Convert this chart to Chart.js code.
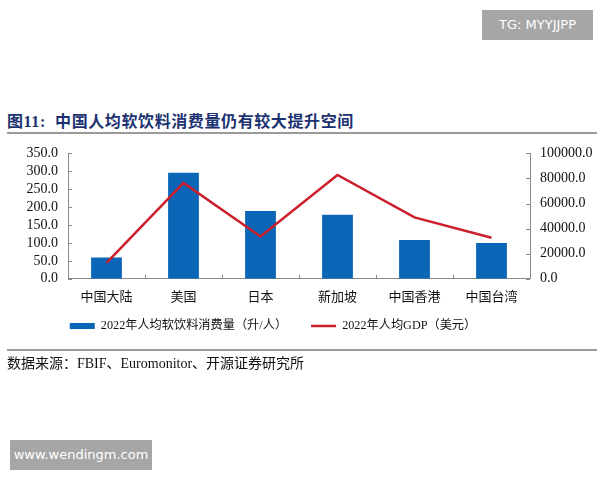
<!DOCTYPE html>
<html>
<head>
<meta charset="utf-8">
<script src="https://cdn.jsdelivr.net/npm/chart.js@4/dist/chart.umd.min.js"></script>
<style>
    body { margin: 0; width: 600px; height: 480px; background: #fff; position: relative; overflow: hidden;
           font-family: "Liberation Serif", "Noto Sans CJK SC", serif; }
    .badge { position: absolute; background: #a6a6a6; color: #fff; font-family: "DejaVu Sans", sans-serif;
             font-size: 13px; line-height: 30px; text-align: center; }
    #title { position: absolute; left: 7px; top: 108px; font-size: 16px; font-weight: bold; color: #1c3270;
             letter-spacing: 0.6px; font-family: "Liberation Serif", "Noto Sans CJK SC", serif; }
    .rule { position: absolute; left: 7px; width: 590px; height: 2px; background: #9a9a9a; }
    #source { position: absolute; left: 7px; top: 352px; font-size: 14px; color: #111; }
    #wrap { position: absolute; left: 0; top: 135px; width: 600px; height: 230px; }
</style>
</head>
<body>
<div class="badge" style="left:482px; top:10px; width:111px; height:30px;">TG: MYYJJPP</div>
<div id="title">图11:&nbsp; 中国人均软饮料消费量仍有较大提升空间</div>
<div class="rule" style="top:132px;"></div>
<div id="wrap"><canvas id="chart"></canvas></div>
<div class="rule" style="top:349px;"></div>
<div id="source">数据来源：FBIF、Euromonitor、开源证券研究所</div>
<div class="badge" style="left:10px; top:440px; width:142px; height:30px;">www.wendingm.com</div>

<script>
const CATEGORIES = ['中国大陆', '美国', '日本', '新加坡', '中国香港', '中国台湾'];
const SOFT_DRINK = [59.5, 296, 189, 179, 108, 100];
const GDP = [12720, 76400, 33800, 82800, 48980, 32800];
const LEFT_TICKS = [0, 50, 100, 150, 200, 250, 300, 350];
const RIGHT_TICKS = [0, 20000, 40000, 60000, 80000, 100000];

const AXIS = '#8a8a8a';
const FAMILY = '"Liberation Serif", "Noto Sans CJK SC", serif';
const TICK_FONT = { family: FAMILY, size: 14 };
const CAT_FONT = { family: FAMILY, size: 13 };
const LEGEND_FONT = { family: FAMILY, size: 12.2 };

// small inward tick marks like the original
const innerTicks = {
    id: 'innerTicks',
    afterDraw(chart) {
        const { ctx, chartArea, scales } = chart;
        ctx.save();
        ctx.strokeStyle = AXIS;
        ctx.lineWidth = 1;
        ctx.beginPath();
        scales.y.ticks.forEach((t, i) => {
            const y = Math.round(scales.y.getPixelForTick(i)) + 0.5;
            ctx.moveTo(chartArea.left, y);
            ctx.lineTo(chartArea.left + 4, y);
        });
        scales.y1.ticks.forEach((t, i) => {
            const y = Math.round(scales.y1.getPixelForTick(i)) + 0.5;
            ctx.moveTo(chartArea.right, y);
            ctx.lineTo(chartArea.right - 4, y);
        });
        for (let i = 1; i < CATEGORIES.length; i++) {
            const x = Math.round(scales.x.getPixelForValue(i - 0.5)) + 0.5;
            ctx.moveTo(x, chartArea.bottom);
            ctx.lineTo(x, chartArea.bottom - 4);
        }
        ctx.stroke();
        ctx.restore();
    }
};

// the original legend sits a bit left of centre and tight under the labels
const shiftLegend = {
    id: 'shiftLegend',
    afterLayout(chart) {
        const l = chart.legend;
        l.left -= 27;
        l.right -= 27;
        l.top -= 12;
        l.bottom -= 12;
    }
};

new Chart(document.getElementById('chart'), {
    type: 'bar',
    data: {
        labels: CATEGORIES,
        datasets: [
            {
                type: 'line',
                label: '2022年人均GDP（美元）',
                data: GDP,
                yAxisID: 'y1',
                borderColor: '#cc1f2b',
                backgroundColor: '#cc1f2b',
                borderWidth: 2.5,
                pointRadius: 0,
                tension: 0,
                order: 0
            },
            {
                label: '2022年人均软饮料消费量（升/人）',
                data: SOFT_DRINK,
                yAxisID: 'y',
                backgroundColor: '#0b66b8',
                borderWidth: 0,
                categoryPercentage: 1,
                barPercentage: 0.4,
                order: 1
            }
        ]
    },
    options: {
        responsive: true,
        maintainAspectRatio: false,
        animation: false,
        layout: { padding: { top: 7, bottom: 11, left: 0, right: 0 } },
        plugins: {
            tooltip: { enabled: false },
            legend: {
                position: 'bottom',
                reverse: true,
                labels: {
                    color: '#111',
                    font: LEGEND_FONT,
                    usePointStyle: true,
                    pointStyleWidth: 25,
                    boxHeight: 6,
                    padding: 24,
                    generateLabels(chart) {
                        return Chart.defaults.plugins.legend.labels.generateLabels(chart).map((l) => {
                            const isLine = l.datasetIndex === 0;
                            return Object.assign(l, {
                                pointStyle: isLine ? 'line' : 'rect',
                                lineWidth: isLine ? 2.5 : 0,
                                strokeStyle: isLine ? '#cc1f2b' : '#0b66b8'
                            });
                        });
                    }
                }
            }
        },
        scales: {
            x: {
                offset: true,
                grid: { display: false, drawTicks: false },
                border: { color: AXIS },
                ticks: { color: '#111', font: CAT_FONT, padding: 11 },
                afterFit(scale) { scale.height = 29; }
            },
            y: {
                position: 'left',
                min: 0,
                max: 350,
                grid: { display: false, drawTicks: false },
                border: { color: AXIS },
                afterBuildTicks(scale) { scale.ticks = LEFT_TICKS.map((v) => ({ value: v })); },
                ticks: { color: '#111', font: TICK_FONT, padding: 10, autoSkip: false, callback: (v) => v.toFixed(1) },
                afterFit(scale) { scale.width = 68; }
            },
            y1: {
                position: 'right',
                min: 0,
                max: 100000,
                grid: { display: false, drawTicks: false },
                border: { color: AXIS },
                afterBuildTicks(scale) { scale.ticks = RIGHT_TICKS.map((v) => ({ value: v })); },
                ticks: { color: '#111', font: TICK_FONT, padding: 10, autoSkip: false, callback: (v) => v.toFixed(1) },
                afterFit(scale) { scale.width = 70; }
            }
        }
    },
    plugins: [innerTicks, shiftLegend]
});
</script>
</body>
</html>
